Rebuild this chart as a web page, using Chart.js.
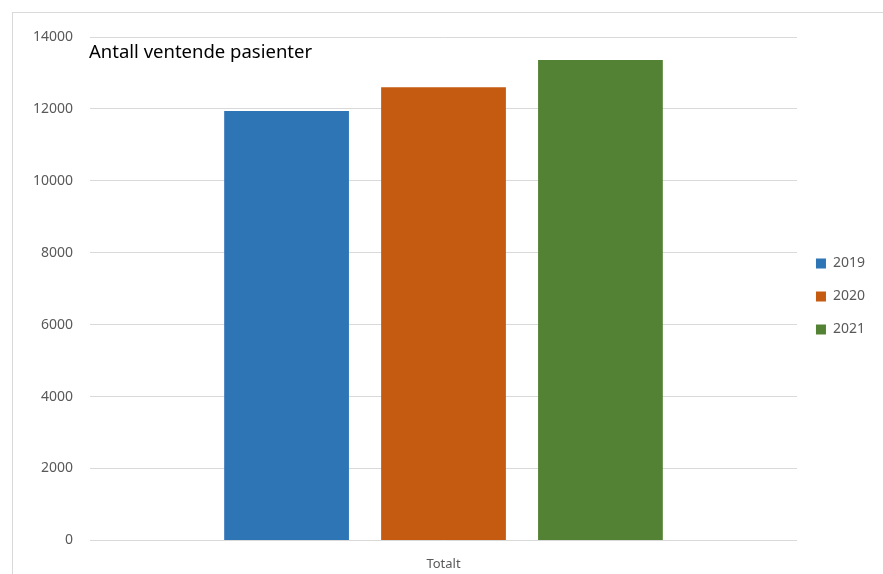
<!DOCTYPE html>
<html>
<head>
<meta charset="utf-8">
<script src="https://cdn.jsdelivr.net/npm/chart.js@4/dist/chart.umd.min.js"></script>
<style>
  body { margin: 0; background: #fff; }
  #wrap { width: 883px; height: 574px; position: relative; }
</style>
</head>
<body>
<div id="wrap"><canvas id="waitChart" width="883" height="574"></canvas></div>
<script>
const categories = ['Totalt'];
const years = ['2019', '2020', '2021'];
const values2019 = [11940];
const values2020 = [12600];
const values2021 = [13360];
const yTicks = [0, 2000, 4000, 6000, 8000, 10000, 12000, 14000];

const colors = ['#2e75b6', '#c55a11', '#548235'];
const series = [values2019, values2020, values2021];

// frame around the chart, title inside the plot, legend nudged up a bit
const framePlugin = {
  id: 'frame',
  afterLayout(chart) {
    chart.legend.top -= 12;
    chart.legend.bottom -= 12;
  },
  beforeDraw(chart) {
    const ctx = chart.ctx;
    ctx.save();
    ctx.strokeStyle = '#d9d9d9';
    ctx.lineWidth = 1;
    ctx.strokeRect(12.5, 12.5, 890, 580);
    ctx.restore();
  },
  afterDraw(chart) {
    const ctx = chart.ctx;
    ctx.save();
    ctx.font = '18.5px "Noto Sans"';
    ctx.fillStyle = '#000';
    ctx.textBaseline = 'middle';
    ctx.fillText('Antall ventende pasienter', 89, 53);
    ctx.restore();
  }
};

new Chart(document.getElementById('waitChart'), {
  type: 'bar',
  data: {
    labels: categories,
    datasets: years.map((y, i) => ({
      label: y,
      data: series[i],
      backgroundColor: colors[i],
      categoryPercentage: 0.666,
      barPercentage: 0.795
    }))
  },
  options: {
    responsive: false,
    animation: false,
    layout: { padding: { left: 16, top: 37, right: 8, bottom: -6 } },
    plugins: {
      legend: {
        position: 'right',
        labels: {
          boxWidth: 10,
          boxHeight: 10,
          padding: 19,
          color: '#595959',
          font: { family: '"Noto Sans"', size: 14 }
        }
      },
      title: { display: false },
      tooltip: { enabled: false }
    },
    scales: {
      x: {
        grid: { display: false },
        border: { display: false },
        ticks: { color: '#595959', font: { family: '"Noto Sans"', size: 13 }, padding: 8 }
      },
      y: {
        min: 0,
        max: 14000,
        afterBuildTicks(axis) { axis.ticks = yTicks.map(v => ({ value: v })); },
        grid: { color: '#d9d9d9', drawTicks: false },
        border: { display: false },
        ticks: {
          color: '#595959',
          font: { family: '"Noto Sans"', size: 14 },
          padding: 17,
          callback: v => String(v)
        }
      }
    }
  },
  plugins: [framePlugin]
});
</script>
</body>
</html>
